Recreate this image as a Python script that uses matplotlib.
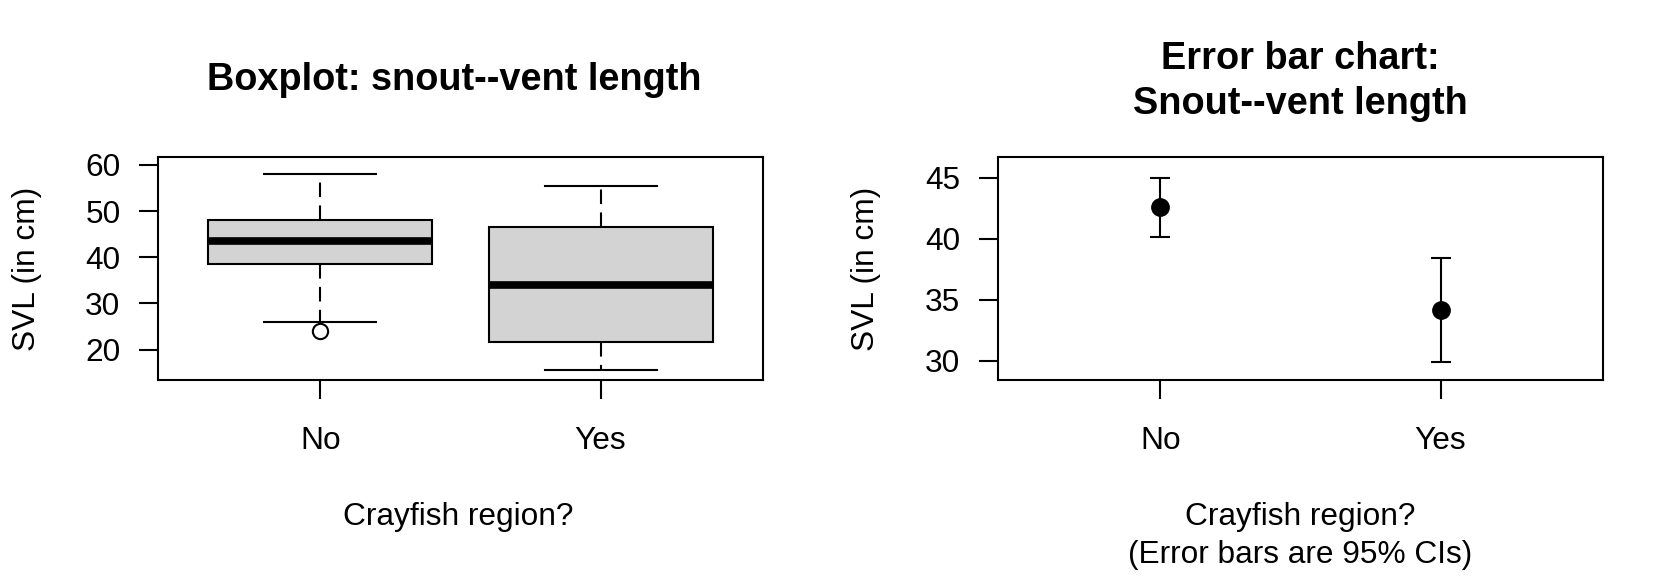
import matplotlib
matplotlib.use("Agg")
import matplotlib.pyplot as plt

plt.rcParams['font.family'] = ['Liberation Sans', 'DejaVu Sans']

# ---- data ----
groups = ["No", "Yes"]
# boxplot five-number summaries
box_whislo = [26.0, 15.5]
box_q1 = [38.5, 21.7]
box_med = [43.5, 34.0]
box_q3 = [48.0, 46.5]
box_whishi = [58.0, 55.5]
box_fliers = [[24.0], []]
# error bar chart: means and 95% CI limits
means = [42.6, 34.2]
ci_low = [40.15, 29.95]
ci_high = [45.0, 38.4]
left_yticks = [20, 30, 40, 50, 60]
right_yticks = [30, 35, 40, 45]

W, H = 1680, 576
fig = plt.figure(figsize=(W / 100, H / 100), dpi=100)

def fx(px):
    return px / W

def fy(py):
    return 1 - py / H

base = 22.8
title_size = 27.3
lw = 1.5

axL = fig.add_axes([fx(158), fy(380), fx(763) - fx(158), fy(157) - fy(380)])
axR = fig.add_axes([fx(998), fy(380), fx(1603) - fx(998), fy(157) - fy(380)])

stats = []
for i, g in enumerate(groups):
    stats.append(dict(label=g, whislo=box_whislo[i], q1=box_q1[i], med=box_med[i],
                      q3=box_q3[i], whishi=box_whishi[i], fliers=box_fliers[i]))
axL.bxp(stats, positions=[1, 2], widths=0.8, patch_artist=True, showfliers=True,
        boxprops=dict(facecolor="#D3D3D3", edgecolor="black", linewidth=lw),
        medianprops=dict(color="black", linewidth=5.5, solid_capstyle="butt"),
        whiskerprops=dict(color="black", linewidth=lw, linestyle=(0, (7, 4))),
        capprops=dict(color="black", linewidth=lw),
        capwidths=0.4,
        flierprops=dict(marker="o", markerfacecolor="none", markeredgecolor="black",
                        markersize=11, markeredgewidth=lw))
axL.set_xlim(0.42, 2.58)
axL.set_ylim(13.4, 61.7)
axL.set_yticks(left_yticks)

x = list(range(1, len(groups) + 1))
yerr = [[m - l for m, l in zip(means, ci_low)], [h - m for m, h in zip(means, ci_high)]]
axR.errorbar(x, means, yerr=yerr, fmt="o", color="black", markersize=12.5,
             capsize=7.5, elinewidth=lw, capthick=lw)
axR.set_xlim(0.42, 2.58)
axR.set_ylim(28.44, 46.7)
axR.set_yticks(right_yticks)

for ax in (axL, axR):
    ax.set_xticks(x)
    ax.set_xticklabels(groups)
    for s in ax.spines.values():
        s.set_linewidth(lw)
    ax.tick_params(axis="both", length=14, width=lw, labelsize=base, direction="out")
    ax.tick_params(axis="y", pad=13)
    ax.tick_params(axis="x", pad=19)

# y axis labels
fig.text(fx(27), fy(269), "SVL (in cm)", rotation=90, ha="center", va="center", fontsize=base)
fig.text(fx(866), fy(269), "SVL (in cm)", rotation=90, ha="center", va="center", fontsize=base)

# x axis labels
fig.text(fx(458), fy(517), "Crayfish region?", ha="center", va="center", fontsize=base)
fig.text(fx(1300), fy(517), "Crayfish region?", ha="center", va="center", fontsize=base)
fig.text(fx(1300), fy(555), "(Error bars are 95% CIs)", ha="center", va="center", fontsize=base)

# titles
fig.text(fx(454), fy(80), "Boxplot: snout--vent length", ha="center", va="center",
         fontsize=title_size, fontweight="bold")
fig.text(fx(1300), fy(59), "Error bar chart:", ha="center", va="center",
         fontsize=title_size, fontweight="bold")
fig.text(fx(1300), fy(104), "Snout--vent length", ha="center", va="center",
         fontsize=title_size, fontweight="bold")

fig.savefig("out.png", dpi=100)
